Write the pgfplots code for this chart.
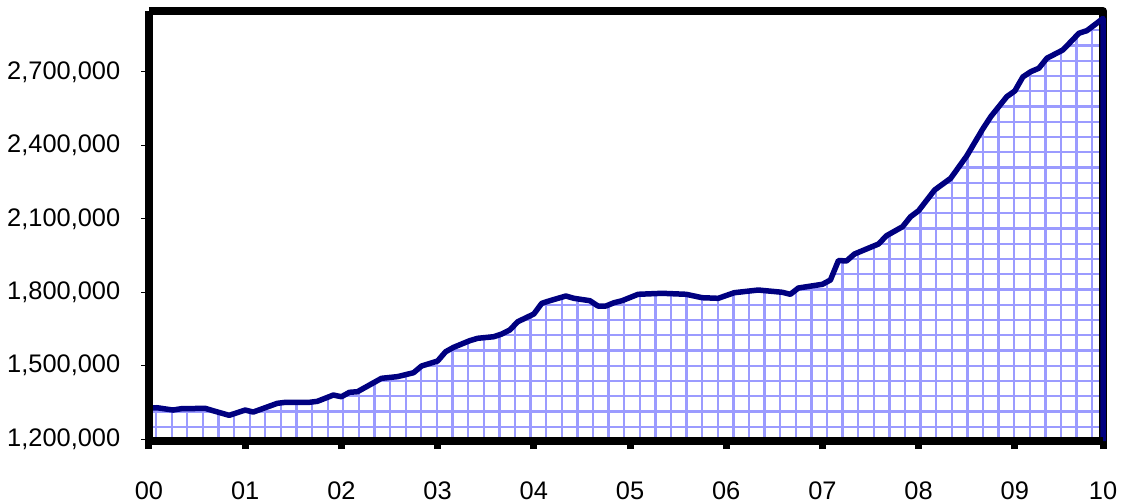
\documentclass[border=0pt]{standalone}
\usepackage{fontspec}
\setmainfont{Liberation Sans}
\usepackage{pgfplots}
\pgfplotsset{compat=1.18}
\definecolor{navyline}{RGB}{0,0,128}
\definecolor{gridblue}{RGB}{155,155,255}
\pgfplotstableread{
m v
0 1326700
1 1327900
3 1318500
4 1323800
7 1325500
8 1315700
10 1296900
12 1318500
13 1310300
16 1345900
17 1350000
20 1350000
21 1354100
23 1379800
24 1372900
25 1390900
26 1393300
29 1448100
31 1455000
33 1471000
34 1498400
36 1518800
37 1556800
38 1574800
40 1601800
41 1611600
43 1618100
44 1629100
45 1645500
46 1679400
48 1710900
49 1754600
50 1765200
52 1784400
53 1775000
55 1765200
56 1743600
57 1743600
58 1757000
59 1765200
61 1791400
64 1795500
67 1791400
69 1777500
71 1775000
73 1797900
76 1808900
79 1799600
80 1791400
81 1817100
84 1832300
85 1849800
86 1929500
87 1927500
88 1956100
91 1997000
92 2030900
94 2067700
95 2108500
96 2133100
98 2217700
100 2265500
102 2356600
104 2467000
105 2517200
107 2599000
108 2622300
109 2679500
110 2701200
111 2715100
112 2755900
114 2789900
115 2823800
116 2858100
117 2868800
119 2918600
}\series
\begin{document}
\begin{tikzpicture}
\useasboundingbox (-149bp,-63bp) rectangle (972bp,441bp);
\begin{axis}[
  at={(0,0)}, anchor=south west,
  scale only axis, width=954bp, height=430bp,
  xmin=0, xmax=119, ymin=1192000, ymax=2949000,
  clip=false,
  scaled x ticks=false, scaled y ticks=false,
  axis line style={draw=none},
  xtick={0,12,24,36,48,60,72,84,96,108,119},
  xticklabels={00,01,02,03,04,05,06,07,08,09,10},
  ytick={1200000,1500000,1800000,2100000,2400000,2700000},
  yticklabels={{1,200,000},{1,500,000},{1,800,000},{2,100,000},{2,400,000},{2,700,000}},
  minor xtick={0.89,2.836,...,119},
  minor ytick={1250300,1312600,...,2949000},
  minor tick length=0pt,
  xminorgrids=true, yminorgrids=true,
  minor grid style={gridblue, line width=2.3bp},
  tick align=outside,
  xtick pos=bottom, ytick pos=left,
  x tick style={line width=7bp, black, /pgfplots/major tick length=8bp},
  y tick style={line width=1bp, black, /pgfplots/major tick length=8bp},
  ticklabel style={font=\fontsize{25.5}{29}\selectfont, text=black},
  xticklabel style={yshift=-33bp},
  yticklabel style={xshift=-21bp},
]
\addplot[draw=none, fill=white] table[x=m, y=v] {\series} -- (axis cs:119,2949000) -- (axis cs:0,2949000) -- cycle;
\draw[black, line width=8bp, line join=round] (rel axis cs:0,1) -- (rel axis cs:1,1) -- (rel axis cs:1,0);
\addplot[navyline, line width=5.5bp, line join=round] table[x=m, y=v] {\series} -- (axis cs:119,1192000);
\draw[black, line width=8bp, line join=round] (rel axis cs:0,1) -- (rel axis cs:0,0) -- (rel axis cs:1,0);
\end{axis}
\end{tikzpicture}
\end{document}
